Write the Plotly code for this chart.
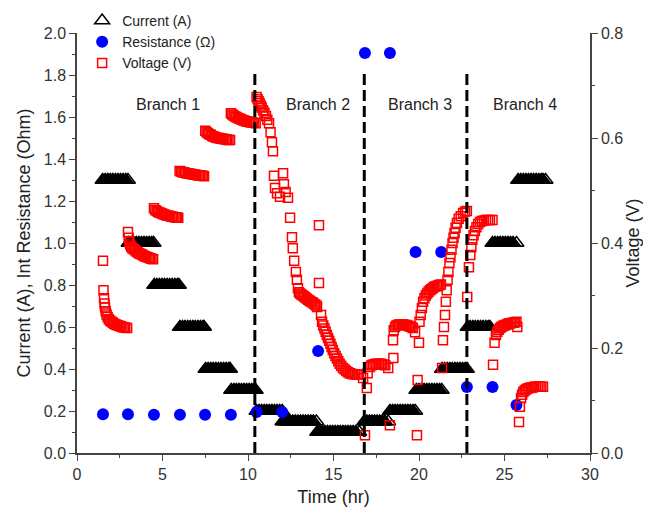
import plotly.graph_objects as go

# ---------------- data ----------------
# Current steps (A) and the sampling times (hr) of each step
current_levels = [1.3, 1.0, 0.8, 0.6, 0.4, 0.3, 0.2, 0.15, 0.1, 0.15, 0.2, 0.3, 0.4, 0.6, 1.0, 1.3]
current_times = [
    [1.50, 1.65, 1.80, 1.95, 2.10, 2.25, 2.40, 2.55, 2.70, 2.85, 2.98],
    [3.02, 3.17, 3.32, 3.47, 3.62, 3.77, 3.92, 4.07, 4.22, 4.37, 4.48],
    [4.52, 4.67, 4.82, 4.97, 5.12, 5.27, 5.42, 5.57, 5.72, 5.87, 5.96],
    [6.02, 6.17, 6.32, 6.47, 6.62, 6.77, 6.92, 7.07, 7.22, 7.37, 7.43],
    [7.52, 7.67, 7.82, 7.97, 8.12, 8.27, 8.42, 8.57, 8.72, 8.87, 8.95],
    [9.02, 9.17, 9.32, 9.47, 9.62, 9.77, 9.92, 10.07, 10.22, 10.37, 10.45],
    [10.50, 10.65, 10.80, 10.95, 11.10, 11.25, 11.40, 11.55, 11.70, 11.85, 12.00],
    [12.02, 12.17, 12.32, 12.47, 12.62, 12.77, 12.92, 13.07, 13.22, 13.37, 13.52, 13.67, 13.82, 14.00],
    [14.05, 14.20, 14.35, 14.50, 14.65, 14.80, 14.95, 15.10, 15.25, 15.40, 15.55, 15.70, 15.85, 16.00, 16.15, 16.30, 16.50],
    [16.80, 16.95, 17.10, 17.25, 17.40, 17.55, 17.70, 17.85, 18.00, 18.20],
    [18.30, 18.45, 18.60, 18.75, 18.90, 19.05, 19.20, 19.35, 19.50, 19.65, 19.78],
    [19.85, 20.00, 20.15, 20.30, 20.45, 20.60, 20.75, 20.90, 21.05, 21.20, 21.33],
    [21.35, 21.50, 21.65, 21.80, 21.95, 22.10, 22.25, 22.40, 22.55, 22.70, 22.80],
    [22.85, 23.00, 23.15, 23.30, 23.45, 23.60, 23.75, 23.90, 24.05, 24.15],
    [24.30, 24.45, 24.60, 24.75, 24.90, 25.05, 25.20, 25.35, 25.50, 25.70],
    [25.80, 25.95, 26.10, 26.25, 26.40, 26.55, 26.70, 26.85, 27.00, 27.15, 27.25, 27.40],
]

# Internal resistance (Ohm)
resistance_time = [1.52, 2.98, 4.5, 6.02, 7.49, 9.0, 10.5, 12.0, 14.1, 16.84, 18.3, 19.8, 21.3, 22.8, 24.3, 25.7]
resistance_ohm = [0.185, 0.185, 0.182, 0.182, 0.182, 0.182, 0.195, 0.195, 0.486, 1.905, 1.905, 0.957, 0.957, 0.314, 0.314, 0.229]

# Voltage (V)
voltage_time = [
    # branch 1
    1.52, 1.55, 1.58, 1.61, 1.64, 1.68, 1.73, 1.79, 1.86, 1.94, 2.02, 2.10, 2.18, 2.26, 2.34, 2.42, 2.50, 2.58, 2.66, 2.74, 2.82, 2.93,
    2.98, 3.02, 3.06, 3.11, 3.17, 3.24, 3.32, 3.40, 3.48, 3.56, 3.64, 3.72, 3.80, 3.88, 3.96, 4.04, 4.12, 4.20, 4.28, 4.36, 4.45,
    4.50, 4.58, 4.66, 4.74, 4.82, 4.90, 4.98, 5.06, 5.14, 5.22, 5.30, 5.38, 5.46, 5.54, 5.62, 5.70, 5.78, 5.86, 5.92,
    6.00, 6.08, 6.16, 6.24, 6.32, 6.40, 6.48, 6.56, 6.64, 6.72, 6.80, 6.88, 6.96, 7.04, 7.12, 7.20, 7.28, 7.36, 7.43,
    7.50, 7.58, 7.66, 7.74, 7.82, 7.90, 7.98, 8.06, 8.14, 8.22, 8.30, 8.38, 8.46, 8.54, 8.62, 8.70, 8.78, 8.86, 8.95,
    9.00, 9.08, 9.16, 9.24, 9.32, 9.40, 9.48, 9.56, 9.64, 9.72, 9.80, 9.88, 9.96, 10.04, 10.12, 10.20, 10.28, 10.36, 10.45,
    # branch 2
    10.50, 10.56, 10.62, 10.68, 10.74, 10.80, 10.88, 10.96, 11.05, 11.13, 11.23, 11.32, 11.40, 11.46, 11.52, 11.58, 11.70, 11.87,
    12.05, 12.10, 12.20, 12.34, 12.46, 12.57, 12.62, 12.70, 12.80, 12.86, 12.92,
    12.98, 13.05, 13.12, 13.20, 13.28, 13.36, 13.44, 13.52, 13.60, 13.68, 13.76, 13.84, 13.92, 14.00, 14.04,
    14.15, 14.15,
    14.27, 14.33, 14.40, 14.47, 14.54, 14.61, 14.68, 14.75, 14.82, 14.89, 14.96, 15.04, 15.12, 15.20, 15.28, 15.36,
    15.45, 15.55, 15.65, 15.75, 15.85, 15.95, 16.05, 16.15, 16.25, 16.35, 16.45, 16.60,
    # branch 3
    16.73, 16.95, 16.84, 17.00, 17.13, 17.22, 17.31, 17.40, 17.49, 17.58, 17.67, 17.76, 17.85, 17.94, 18.03, 18.20, 18.30,
    18.50, 18.48, 18.52, 18.60, 18.68, 18.76, 18.84, 18.92, 19.00, 19.08, 19.16, 19.24, 19.32, 19.40, 19.48, 19.56, 19.64, 19.77,
    19.88, 19.92, 20.00,
    20.03, 20.10, 20.17, 20.24, 20.32, 20.40, 20.48, 20.56, 20.64, 20.72, 20.80, 20.88, 20.96, 21.04, 21.12, 21.20, 21.28,
    21.35, 21.40, 21.46, 21.52, 21.57, 21.62, 21.67, 21.72, 21.78, 21.84, 21.90, 21.96, 22.02, 22.08, 22.14, 22.22, 22.32,
    22.44, 22.58, 22.70, 22.80,
    # branch 4
    22.82, 22.92, 23.00, 23.06, 23.12, 23.19, 23.27, 23.36, 23.46, 23.57, 23.68, 23.80, 23.92, 24.04, 24.15, 24.30,
    24.33, 24.42, 24.50, 24.58, 24.66, 24.74, 24.82, 24.90, 24.98, 25.06, 25.14, 25.22, 25.30, 25.38, 25.46, 25.54, 25.62,
    25.70, 25.75,
    25.85, 25.90, 25.97, 26.03, 26.10, 26.18, 26.26, 26.35, 26.45, 26.55, 26.65, 26.75, 26.85, 26.95, 27.05, 27.15, 27.25,
]
voltage_value = [
    # branch 1
    0.366, 0.310, 0.295, 0.285, 0.277, 0.270, 0.264, 0.259, 0.255, 0.252, 0.250, 0.248, 0.246, 0.245, 0.244, 0.243, 0.242, 0.241, 0.240, 0.239, 0.239, 0.238,
    0.421, 0.410, 0.402, 0.397, 0.393, 0.390, 0.388, 0.386, 0.384, 0.382, 0.380, 0.379, 0.378, 0.376, 0.375, 0.374, 0.373, 0.372, 0.371, 0.370, 0.369,
    0.466, 0.463, 0.461, 0.459, 0.458, 0.457, 0.456, 0.455, 0.454, 0.453, 0.452, 0.452, 0.451, 0.450, 0.450, 0.449, 0.449, 0.448, 0.448,
    0.537, 0.536, 0.535, 0.535, 0.534, 0.533, 0.533, 0.532, 0.532, 0.531, 0.531, 0.530, 0.530, 0.529, 0.529, 0.528, 0.528, 0.528, 0.527,
    0.614, 0.611, 0.609, 0.607, 0.606, 0.604, 0.603, 0.602, 0.601, 0.600, 0.600, 0.599, 0.599, 0.598, 0.598, 0.597, 0.597, 0.596, 0.596,
    0.647, 0.645, 0.643, 0.641, 0.640, 0.638, 0.637, 0.636, 0.635, 0.634, 0.633, 0.632, 0.631, 0.631, 0.630, 0.630, 0.629, 0.629, 0.628,
    # branch 2
    0.678, 0.674, 0.670, 0.666, 0.662, 0.658, 0.653, 0.648, 0.642, 0.635, 0.628, 0.611, 0.592, 0.575, 0.528, 0.505, 0.495, 0.488,
    0.533, 0.512, 0.497, 0.486, 0.448, 0.411, 0.390, 0.366, 0.345, 0.330, 0.314,
    0.306, 0.304, 0.302, 0.300, 0.298, 0.296, 0.294, 0.292, 0.290, 0.288, 0.287, 0.285, 0.283, 0.281, 0.278,
    0.434, 0.324,
    0.263, 0.250, 0.243, 0.237, 0.231, 0.225, 0.219, 0.214, 0.208, 0.202, 0.196, 0.190, 0.185, 0.180, 0.175, 0.170,
    0.166, 0.162, 0.159, 0.156, 0.154, 0.152, 0.151, 0.150, 0.150, 0.149, 0.149, 0.149,
    # branch 3
    0.143, 0.124, 0.034, 0.152, 0.164, 0.167, 0.168, 0.169, 0.170, 0.170, 0.170, 0.170, 0.169, 0.168, 0.167, 0.162, 0.053,
    0.181, 0.215, 0.234, 0.240, 0.243, 0.244, 0.245, 0.245, 0.245, 0.245, 0.244, 0.244, 0.243, 0.242, 0.241, 0.240, 0.238, 0.230,
    0.034, 0.139, 0.210,
    0.250, 0.263, 0.276, 0.288, 0.295, 0.300, 0.304, 0.307, 0.310, 0.312, 0.314, 0.316, 0.317, 0.318, 0.319, 0.320, 0.321,
    0.162, 0.215, 0.240, 0.263, 0.288, 0.310, 0.330, 0.345, 0.362, 0.373, 0.387, 0.400, 0.410, 0.419, 0.429, 0.438, 0.446,
    0.451, 0.457, 0.460, 0.461,
    # branch 4
    0.297, 0.354, 0.377, 0.392, 0.406, 0.415, 0.423, 0.430, 0.436, 0.440, 0.442, 0.443, 0.444, 0.444, 0.444, 0.444,
    0.168, 0.210, 0.225, 0.231, 0.235, 0.238, 0.240, 0.242, 0.243, 0.244, 0.245, 0.246, 0.247, 0.247, 0.248, 0.248, 0.249,
    0.250, 0.240,
    0.059, 0.088, 0.105, 0.111, 0.116, 0.119, 0.121, 0.123, 0.124, 0.125, 0.125, 0.126, 0.126, 0.126, 0.126, 0.126, 0.126,
]

branch_bounds = [10.4, 16.8, 22.8]
branch_labels = ["Branch 1", "Branch 2", "Branch 3", "Branch 4"]
branch_label_x = [5.3, 14.1, 20.05, 26.2]
branch_label_y = 1.66

# ---------------- figure ----------------
FONT = "Arial, Liberation Sans, sans-serif"
fig = go.Figure()

# dense (filled) part of each current step; the last sample of each step stays open
fill_x, fill_y, all_x, all_y = [], [], [], []
for lvl, ts in zip(current_levels, current_times):
    fill_x += ts[:-1]
    fill_y += [lvl] * (len(ts) - 1)
    all_x += ts
    all_y += [lvl] * len(ts)

fig.add_trace(go.Scatter(x=fill_x, y=fill_y, mode="markers", showlegend=False, hoverinfo="skip",
                         marker=dict(symbol="triangle-up", size=13, color="black",
                                     line=dict(color="black", width=1))))
fig.add_trace(go.Scatter(x=all_x, y=all_y, mode="markers", name="Current (A)",
                         marker=dict(symbol="triangle-up-open", size=13, color="black",
                                     line=dict(color="black", width=1.5))))
fig.add_trace(go.Scatter(x=resistance_time, y=resistance_ohm, mode="markers", name="Resistance (Ω)",
                         marker=dict(symbol="circle", size=12, color="#0000ff",
                                     line=dict(width=0))))
fig.add_trace(go.Scatter(x=voltage_time, y=voltage_value, mode="markers", name="Voltage (V)",
                         yaxis="y2",
                         marker=dict(symbol="square-open", size=9, color="#ff0000",
                                     line=dict(color="#ff0000", width=1.5))))

for b in branch_bounds:
    fig.add_shape(type="line", xref="x", yref="y", x0=b, x1=b, y0=0, y1=1.81,
                  line=dict(color="black", width=3, dash="11px,5px"), layer="above")

for lab, lx in zip(branch_labels, branch_label_x):
    fig.add_annotation(x=lx, y=branch_label_y, xref="x", yref="y", text=lab, showarrow=False,
                       font=dict(family=FONT, size=16, color="#222"))

axis_common = dict(showgrid=False, zeroline=False, showline=True, linecolor="#444", linewidth=1.5,
                   ticks="outside", ticklen=6, tickwidth=1.3, tickcolor="#444", automargin=False,
                   tickfont=dict(family=FONT, size=16, color="#333"))

# the page body adds an 8px margin, so the figure is sized to fit inside the window
fig.update_layout(
    width=635, height=499,
    margin=dict(l=69, r=53, t=25, b=54, autoexpand=False),
    paper_bgcolor="white", plot_bgcolor="white",
    font=dict(family=FONT, color="#222"),
    xaxis=dict(range=[0, 30], dtick=5, tick0=0,
               minor=dict(dtick=2.5, ticklen=3, tickcolor="#444", ticks="outside"),
               title=dict(text="Time (hr)", font=dict(family=FONT, size=18, color="#222"), standoff=8),
               **axis_common),
    yaxis=dict(range=[0, 2.0], dtick=0.2, tick0=0, tickformat=".1f",
               minor=dict(dtick=0.1, ticklen=3, tickcolor="#444", ticks="outside"),
               title=dict(text="Current (A), Int Resistance (Ohm)",
                          font=dict(family=FONT, size=18, color="#222"), standoff=8),
               **axis_common),
    yaxis2=dict(range=[0, 0.8], dtick=0.2, tick0=0, tickformat=".1f", overlaying="y", side="right",
                minor=dict(dtick=0.1, ticklen=3, tickcolor="#444", ticks="outside"),
                title=dict(text="Voltage (V)", font=dict(family=FONT, size=18, color="#222"), standoff=4),
                **axis_common),
    legend=dict(x=0.01, y=1.0667, xanchor="left", yanchor="top", bgcolor="rgba(0,0,0,0)",
                font=dict(family=FONT, size=14, color="#222"), tracegroupgap=0, itemwidth=30),
)

fig.write_html("out.html")
